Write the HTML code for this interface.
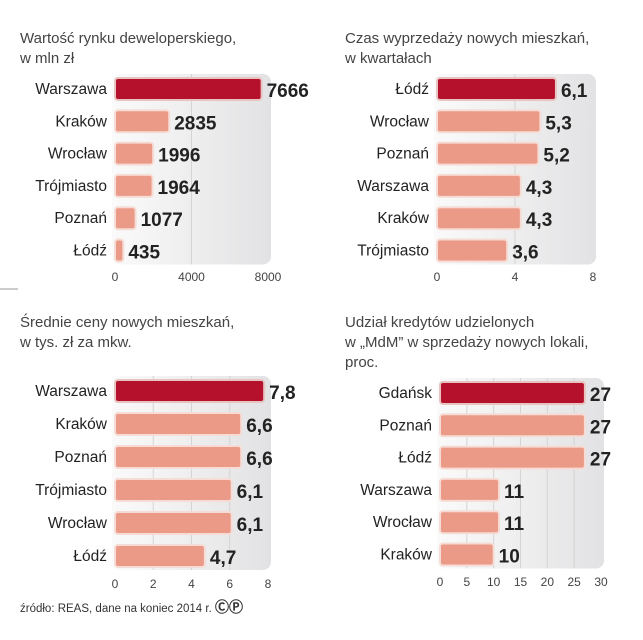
<!DOCTYPE html>
<html><head><meta charset="utf-8">
<style>
body{margin:0;background:#fff;width:643px;height:640px;overflow:hidden;font-family:"Liberation Sans",sans-serif}
svg{display:block}
.t{font-size:15px;fill:#444}
.cat{font-size:15.5px;fill:#222;text-anchor:end}
.val{font-size:19px;font-weight:bold;fill:#222;font-family:"Liberation Sans Narrow","Liberation Sans",sans-serif}
.tick{font-size:12px;fill:#444;text-anchor:middle}
</style></head><body>
<svg id="s" width="643" height="640" xmlns="http://www.w3.org/2000/svg">
<defs><linearGradient id="g" x1="0" x2="1"><stop offset="0" stop-color="#fafafa"/><stop offset="1" stop-color="#e2e2e4"/></linearGradient></defs>
<text class="t" x="20" y="43">Wartość rynku deweloperskiego,</text>
<text class="t" x="20" y="63">w mln zł</text>
<text class="t" x="345" y="43">Czas wyprzedaży nowych mieszkań,</text>
<text class="t" x="345" y="63">w kwartałach</text>
<text class="t" x="20" y="327">Średnie ceny nowych mieszkań,</text>
<text class="t" x="20" y="347">w tys. zł za mkw.</text>
<text class="t" x="345" y="327">Udział kredytów udzielonych</text>
<text class="t" x="345" y="347">w „MdM” w sprzedaży nowych lokali,</text>
<text class="t" x="345" y="367">proc.</text>
<line x1="0" y1="289" x2="18" y2="289" stroke="#999"/>
<text x="20" y="612" style="font-size:11.5px;fill:#333">źródło: REAS, dane na koniec 2014 r. <tspan font-weight="bold" font-size="14">ⒸⓅ</tspan></text>
<g id="charts"></g>
</svg>
<script>
const cats1=["Warszawa","Kraków","Wrocław","Trójmiasto","Poznań","Łódź"];
const vals1=[7666,2835,1996,1964,1077,435];
const labels1=["7666","2835","1996","1964","1077","435"];
const ticks1=[0,4000,8000];
const cats2=["Łódź","Wrocław","Poznań","Warszawa","Kraków","Trójmiasto"];
const vals2=[6.1,5.3,5.2,4.3,4.3,3.6];
const labels2=["6,1","5,3","5,2","4,3","4,3","3,6"];
const ticks2=[0,4,8];
const cats3=["Warszawa","Kraków","Poznań","Trójmiasto","Wrocław","Łódź"];
const vals3=[7.8,6.6,6.6,6.1,6.1,4.7];
const labels3=["7,8","6,6","6,6","6,1","6,1","4,7"];
const ticks3=[0,2,4,6,8];
const cats4=["Gdańsk","Poznań","Łódź","Warszawa","Wrocław","Kraków"];
const vals4=[27,27,27,11,11,10];
const labels4=["27","27","27","11","11","10"];
const ticks4=[0,5,10,15,20,25,30];

const NS="http://www.w3.org/2000/svg";
const root=document.getElementById("charts");
function mk(tag,attrs,parent){const e=document.createElementNS(NS,tag);for(const k in attrs)e.setAttribute(k,attrs[k]);parent.appendChild(e);return e;}
function chart(id,cats,vals,labels,ticks,x0,x1,max,y0,step,tickY,panelTop){
  const g=mk("g",{},root);
  
  
  const sx=v=>x0+(v/max)*(x1-x0);
  const bottom=y0+step*(cats.length-1)+14;
  const p=mk("rect",{x:x0-3,y:panelTop,width:x1-x0+6,height:bottom-panelTop,rx:8,fill:"url(#g)"},g);
  
  
  ticks.forEach((t,i)=>{
    if(i>0&&i<ticks.length-1){const l=mk("line",{x1:sx(t),x2:sx(t),y1:panelTop,y2:bottom,stroke:"#d4d4d4"},g);
      
      }
    const tx=mk("text",{x:sx(t),y:tickY,class:"tick"},g);tx.textContent=t;
    
    
  });
  cats.forEach((c,i)=>{
    const cy=y0+step*i;
    const ct=mk("text",{x:x0-8,y:cy+5,class:"cat"},g);ct.textContent=c;
    
    
    const w=Math.max(sx(vals[i])-x0,3);
    const b=mk("rect",{x:x0,y:cy-11,width:w,height:22,rx:3,fill:i==0?"#b5112d":"#eb9a88",stroke:i==0?"#e8c4c0":"#f6dcd4","stroke-width":2},g);
    
    
    const vt=mk("text",{x:x0+w+5,y:cy+8,class:"val"},g);vt.textContent=labels[i];
    
    
  });
}
chart("chart-market-value",cats1,vals1,labels1,ticks1,115,268,8000,89,32.3,281,74);
chart("chart-sellout-time",cats2,vals2,labels2,ticks2,437,593,8,89,32.3,281,74);
chart("chart-avg-price",cats3,vals3,labels3,ticks3,115,268,8,391,33,588,376);
chart("chart-mdm-share",cats4,vals4,labels4,ticks4,440,601,30,393,32.3,586,378);
</script>
</body></html>
